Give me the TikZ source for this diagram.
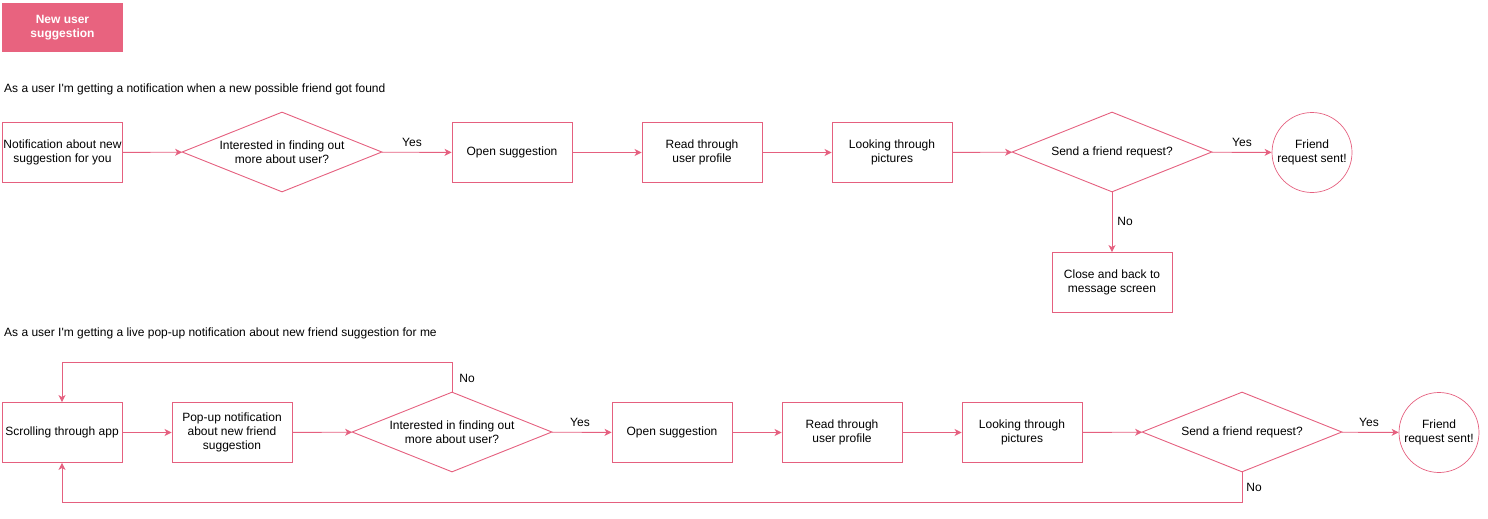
\documentclass[tikz,border=0pt]{standalone}
\usepackage{fontspec}
\setmainfont{Liberation Sans}
\usetikzlibrary{shapes.geometric,arrows.meta}
\definecolor{pinkline}{HTML}{E5607F}
\definecolor{pinkfill}{HTML}{E8637F}
\begin{document}
\begin{tikzpicture}[x=1pt,y=-1pt,
  every node/.style={font=\fontsize{12}{14}\selectfont, text=black},
  stepbox/.style={draw=pinkline, line width=0.9pt, minimum width=120pt, minimum height=60pt, inner sep=1pt, align=center},
  decide/.style={draw=pinkline, line width=0.9pt, shape=diamond, minimum width=200pt, minimum height=80pt, inner sep=0pt},
  endc/.style={draw=pinkline, line width=0.7pt, circle, minimum size=80pt, inner sep=0pt, align=center},
  lbl/.style={inner sep=0pt},
  flow/.style={draw=pinkline, line width=0.9pt, -{Stealth[length=7pt,width=7pt,inset=2pt]}},
  plain/.style={draw=pinkline, line width=0.9pt}
]
\useasboundingbox (0,0) rectangle (1488,519);

% title
\node[fill=pinkfill, minimum width=121pt, minimum height=49pt, inner sep=0pt, align=center, text=white, font=\fontsize{12}{14}\selectfont\bfseries] (title) at (62.5,27.5) {New user\\suggestion};

% row 1
\node[lbl, anchor=west] (t1) at (4,89.5) {As a user I\textquotesingle m getting a notification when a new possible friend got found};

\node[stepbox] (A) at (62.5,152.5) {Notification about new\\suggestion for you};
\node[decide, label={[align=center, font=\fontsize{12}{14}\selectfont, yshift=-0.5pt]center:Interested in finding out\\more about user?}] (B) at (282,152) {};
\node[stepbox] (C) at (512,152.5) {Open suggestion};
\node[stepbox] (D) at (702,152.5) {Read through\\user profile};
\node[stepbox] (E) at (892,152.5) {Looking through\\pictures};
\node[decide, label={[font=\fontsize{12}{14}\selectfont, yshift=-0.5pt]center:Send a friend request?}] (F) at (1112,152) {};
\node[endc] (G) at (1312,152.5) {Friend\\request sent!};
\node[stepbox] (H) at (1112,282.5) {Close and back to\\message screen};

\draw[flow] (A) -- (B);
\draw[flow] (B) -- (C);
\draw[flow] (C) -- (D);
\draw[flow] (D) -- (E);
\draw[flow] (E) -- (F);
\draw[flow] (F) -- (G);
\draw[flow] (F) -- (H);
\node[lbl] (y1) at (412,142.5) {Yes};
\node[lbl] (y2) at (1242,142.5) {Yes};
\node[lbl] (n1) at (1125,221.5) {No};

% row 2
\node[lbl, anchor=west] (t2) at (4,333.5) {As a user I\textquotesingle m getting a live pop-up notification about new friend suggestion for me};

\node[stepbox] (I) at (62,432.5) {Scrolling through app};
\node[stepbox] (J) at (232,432.5) {Pop-up notification\\about new friend\\suggestion};
\node[decide, label={[align=center, font=\fontsize{12}{14}\selectfont, yshift=-0.5pt]center:Interested in finding out\\more about user?}] (K) at (452,432) {};
\node[stepbox] (L) at (672,432.5) {Open suggestion};
\node[stepbox] (M) at (842,432.5) {Read through\\user profile};
\node[stepbox] (N) at (1022,432.5) {Looking through\\pictures};
\node[decide, label={[font=\fontsize{12}{14}\selectfont, yshift=-0.5pt]center:Send a friend request?}] (O) at (1242,432) {};
\node[endc] (P) at (1439,432.5) {Friend\\request sent!};

\coordinate (k1) at (452,362);
\coordinate (k2) at (62,362);
\coordinate (o1) at (1242,502);
\coordinate (o2) at (62,502);

\draw[flow] (I) -- (J);
\draw[flow] (J) -- (K);
\draw[flow] (K) -- (L);
\draw[flow] (L) -- (M);
\draw[flow] (M) -- (N);
\draw[flow] (N) -- (O);
\draw[flow] (O) -- (P);
\draw[flow] (K.north) -- (k1) -- (k2) -- (I.north);
\draw[flow] (O.south) -- (o1) -- (o2) -- (I.south);
\node[lbl] (y3) at (580,422.5) {Yes};
\node[lbl] (y4) at (1369,422.5) {Yes};
\node[lbl] (n2) at (467,378.5) {No};
\node[lbl] (n3) at (1254,487.5) {No};
\end{tikzpicture}
\end{document}
